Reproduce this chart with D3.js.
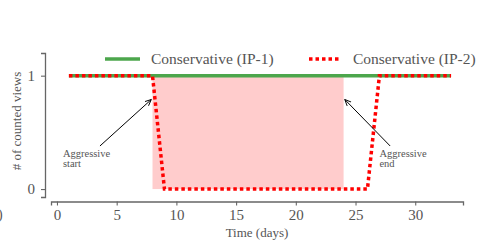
<!DOCTYPE html>
<html>
<head>
<meta charset="utf-8">
<script src="https://cdn.jsdelivr.net/npm/d3@7"></script>
<style>
  body { margin: 0; background: #fff; }
  text { font-family: "Liberation Serif", "DejaVu Serif", serif; fill: #555; }
</style>
</head>
<body>
<svg id="chart" width="492" height="243"></svg>
<script>
// days and counted views for each series
const days = d3.range(1, 34);
const ip1Views = [1,1,1,1,1,1,1,1,1,1,1,1,1,1,1,1,1,1,1,1,1,1,1,1,1,1,1,1,1,1,1,1,1];
const ip2Views = [1,1,1,1,1,1,1,1,0,0,0,0,0,0,0,0,0,0,0,0,0,0,0,0,0,0,1,1,1,1,1,1,1];
const aggressiveWindow = [8, 24];
const xTicks = [0, 5, 10, 15, 20, 25, 30];
const yTicks = [0, 1];
const seriesNames = ["Conservative (IP-1)", "Conservative (IP-2)"];

const svg = d3.select('#chart');
const x = d3.scaleLinear().domain([-0.5, 34]).range([51, 463]);
const y = d3.scaleLinear().domain([-0.07, 1.2]).range([197, 53]);

// shaded aggressive window
svg.append('rect')
    .attr('x', x(aggressiveWindow[0]))
    .attr('y', y(1))
    .attr('width', x(aggressiveWindow[1]) - x(aggressiveWindow[0]))
    .attr('height', y(0) - y(1))
    .attr('fill', '#ffcccc');

const line = d3.line().x((d, i) => x(days[i])).y(d => y(d));

svg.append('path')
    .datum(ip1Views)
    .attr('d', line)
    .attr('fill', 'none')
    .attr('stroke', '#4ca64c')
    .attr('stroke-width', 3.5);

svg.append('path')
    .datum(ip2Views)
    .attr('d', line)
    .attr('fill', 'none')
    .attr('stroke', '#ff0000')
    .attr('stroke-width', 3.5)
    .attr('stroke-dasharray', '3.5,3');

// axes
const xAxis = svg.append('g')
    .attr('transform', 'translate(0,' + 201.5 + ')')
    .call(d3.axisBottom(x).tickValues(xTicks).tickSize(4).tickPadding(4));
const yAxis = svg.append('g')
    .attr('transform', 'translate(45,0)')
    .call(d3.axisLeft(y).tickValues(yTicks).tickFormat(d3.format('d')).tickSize(4).tickPadding(6));

[xAxis, yAxis].forEach(a => {
    a.select('.domain').attr('stroke', '#666').attr('stroke-width', 1.3);
    a.selectAll('.tick line').attr('stroke', '#666').attr('stroke-width', 1.1);
    a.selectAll('.tick text').attr('font-size', 15).attr('fill', '#555')
        .attr('font-family', '"Liberation Serif", serif');
});

svg.append('text')
    .attr('x', 257).attr('y', 237)
    .attr('text-anchor', 'middle')
    .attr('font-size', 13)
    .text('Time (days)');

svg.append('text')
    .attr('transform', 'translate(21,121) rotate(-90)')
    .attr('text-anchor', 'middle')
    .attr('font-size', 13)
    .text('# of counted views');

// annotations
svg.append('defs').append('marker')
    .attr('id', 'arrow')
    .attr('viewBox', '0 0 10 10')
    .attr('refX', 9).attr('refY', 5)
    .attr('markerWidth', 7).attr('markerHeight', 7)
    .attr('orient', 'auto')
    .append('path')
    .attr('d', 'M0,1 L9,5 L0,9')
    .attr('fill', 'none')
    .attr('stroke', '#000')
    .attr('stroke-width', 1.3);

const notes = [
    {lines: ['Aggressive', 'start'], tx: 0.5, from: [3.6, 0.38], to: [7.9, 0.79]},
    {lines: ['Aggressive', 'end'], tx: 27.0, from: [27.9, 0.38], to: [24.1, 0.79]}
];
notes.forEach(n => {
    svg.append('line')
        .attr('x1', x(n.from[0])).attr('y1', y(n.from[1]))
        .attr('x2', x(n.to[0])).attr('y2', y(n.to[1]))
        .attr('stroke', '#000').attr('stroke-width', 1)
        .attr('marker-end', 'url(#arrow)');
    const t = svg.append('text')
        .attr('x', x(n.tx)).attr('y', 157)
        .attr('font-size', 10.5);
    n.lines.forEach((s, i) => t.append('tspan').attr('x', x(n.tx)).attr('dy', i ? 10 : 0).text(s));
});

// legend
const legend = svg.append('g');
legend.append('line')
    .attr('x1', 105).attr('x2', 140).attr('y1', 59).attr('y2', 59)
    .attr('stroke', '#4ca64c').attr('stroke-width', 3.5);
legend.append('text').attr('x', 151).attr('y', 64).attr('font-size', 15.5).text(seriesNames[0]);
legend.append('line')
    .attr('x1', 309).attr('x2', 341).attr('y1', 59).attr('y2', 59)
    .attr('stroke', '#ff0000').attr('stroke-width', 3.5).attr('stroke-dasharray', '3.5,3');
legend.append('text').attr('x', 353).attr('y', 64).attr('font-size', 15.5).text(seriesNames[1]);

// clipped panel label remnant at the left edge
svg.append('text').attr('x', -2).attr('y', 219).attr('font-size', 14).text(')');
</script>
</body>
</html>
